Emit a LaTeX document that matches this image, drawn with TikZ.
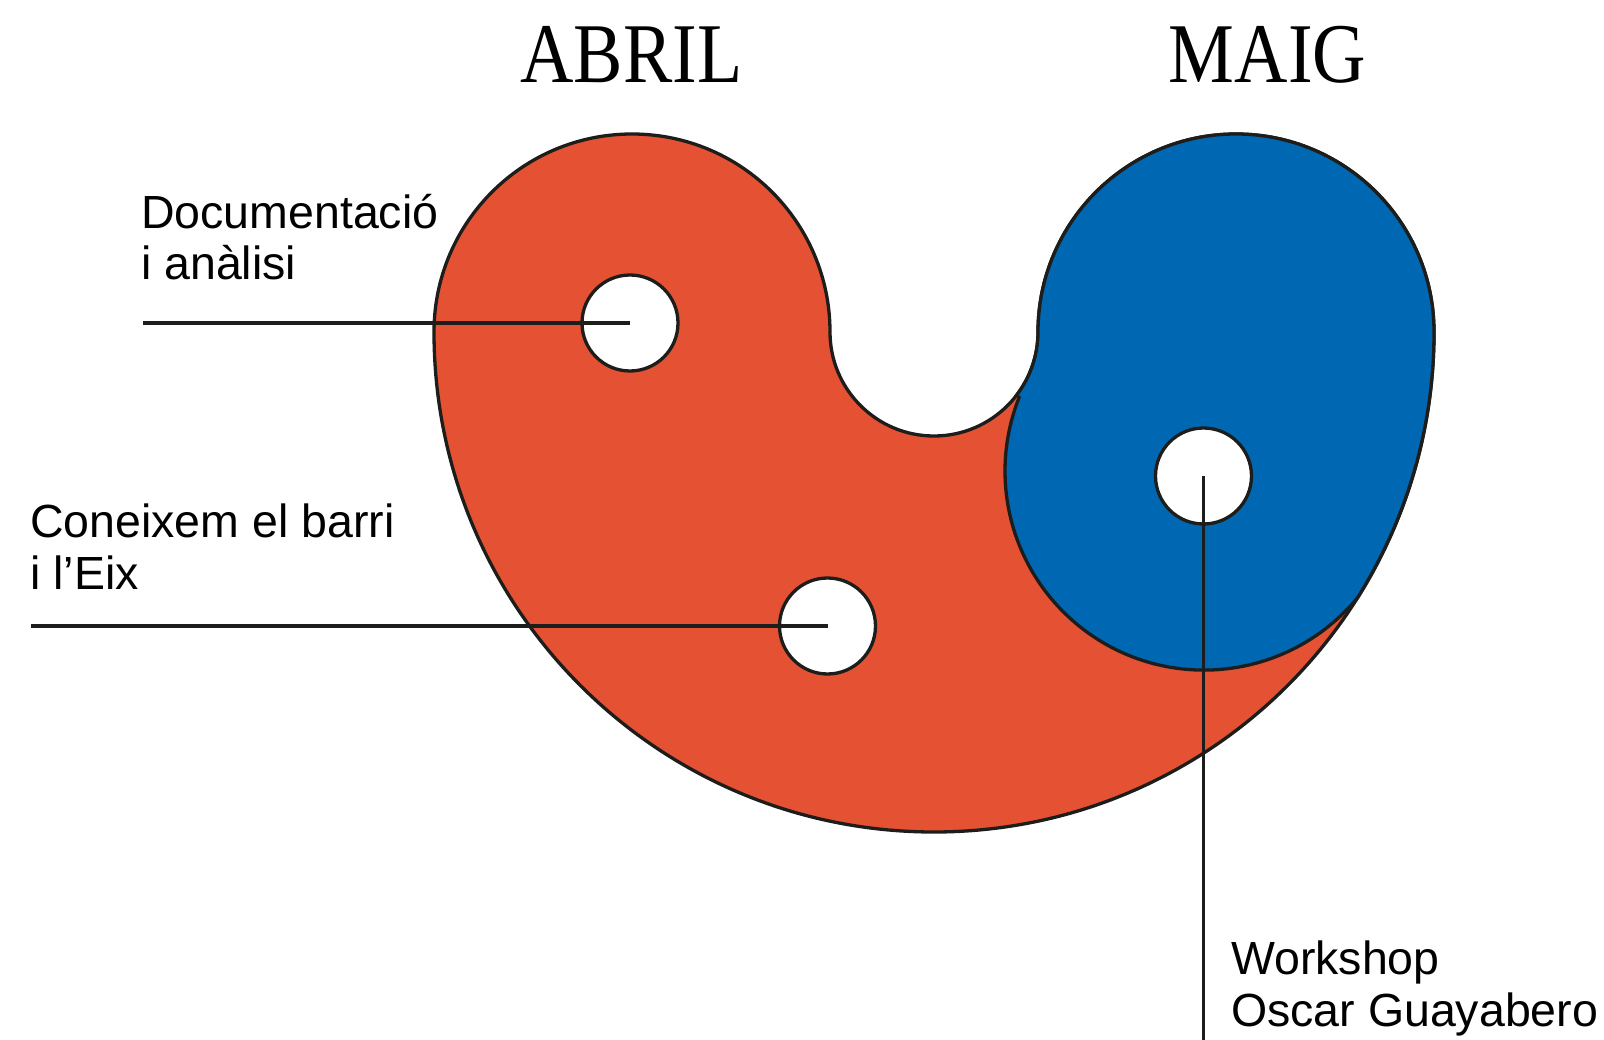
\documentclass[tikz,border=0pt]{standalone}
\usepackage{fontspec}
\setmainfont{Liberation Sans}
\newfontfamily\titlefont[FakeStretch=0.87]{Liberation Serif}
\definecolor{abrilred}{HTML}{E55133}
\definecolor{maigblue}{HTML}{0068B3}
\definecolor{ink}{HTML}{1D1D1B}

\begin{document}
\begin{tikzpicture}[x=1pt, y=-1pt,
    outline/.style={draw=ink, line width=3.3pt},
    hole/.style={circle, draw=ink, line width=3.3pt, fill=white, minimum size=96pt, inner sep=0pt},
    leader/.style={draw=ink, line width=3.3pt},
    textlab/.style={anchor=base west, inner sep=0pt, align=left, font=\fontsize{46.5}{51.5}\selectfont},
    month/.style={anchor=base, inner sep=0pt, font=\titlefont\fontsize{85}{85}\selectfont}]
    \useasboundingbox (0,0) rectangle (1604,1040);

    % Months
    \node[month] (abril) at (631.5,83) {ABRIL};
    \node[month] (maig) at (1267.5,83) {MAIG};

    % April band
    \path[fill=abrilred, outline] (434,332)
        arc[start angle=180, end angle=360, radius=198]
        arc[start angle=180, end angle=0, radius=104]
        arc[start angle=180, end angle=360, radius=198]
        arc[start angle=0, end angle=180, radius=500] -- cycle;

    % May part
    \path[fill=maigblue, outline] (1038,332)
        arc[start angle=180, end angle=360, radius=198]
        arc[start angle=0, end angle=32.1, radius=500]
        arc[start angle=39.5, end angle=201.7, radius=199]
        -- (1016.5,395.3)
        arc[start angle=37.5, end angle=0, radius=104] -- cycle;

    % Activities
    \node[hole] (doc) at (630,323) {};
    \node[hole] (barri) at (827.5,626) {};
    \node[hole] (work) at (1203.5,476) {};

    % base is the last line
    \node[textlab] (doctext) at (141,280) {Documentació\\i anàlisi};
    \node[textlab] (barritext) at (30,589) {Coneixem el barri\\i l’Eix};
    \node[textlab] (worktext) at (1231,1026) {Workshop\\Oscar Guayabero};

    \coordinate (docstart) at (143,323);
    \coordinate (barristart) at (31,626);
    \coordinate (workend) at (1203.5,1040);
    \draw[leader] (docstart) -- (doc.center);
    \draw[leader] (barristart) -- (barri.center);
    \draw[leader] (work.center) -- (workend);
\end{tikzpicture}
\end{document}
